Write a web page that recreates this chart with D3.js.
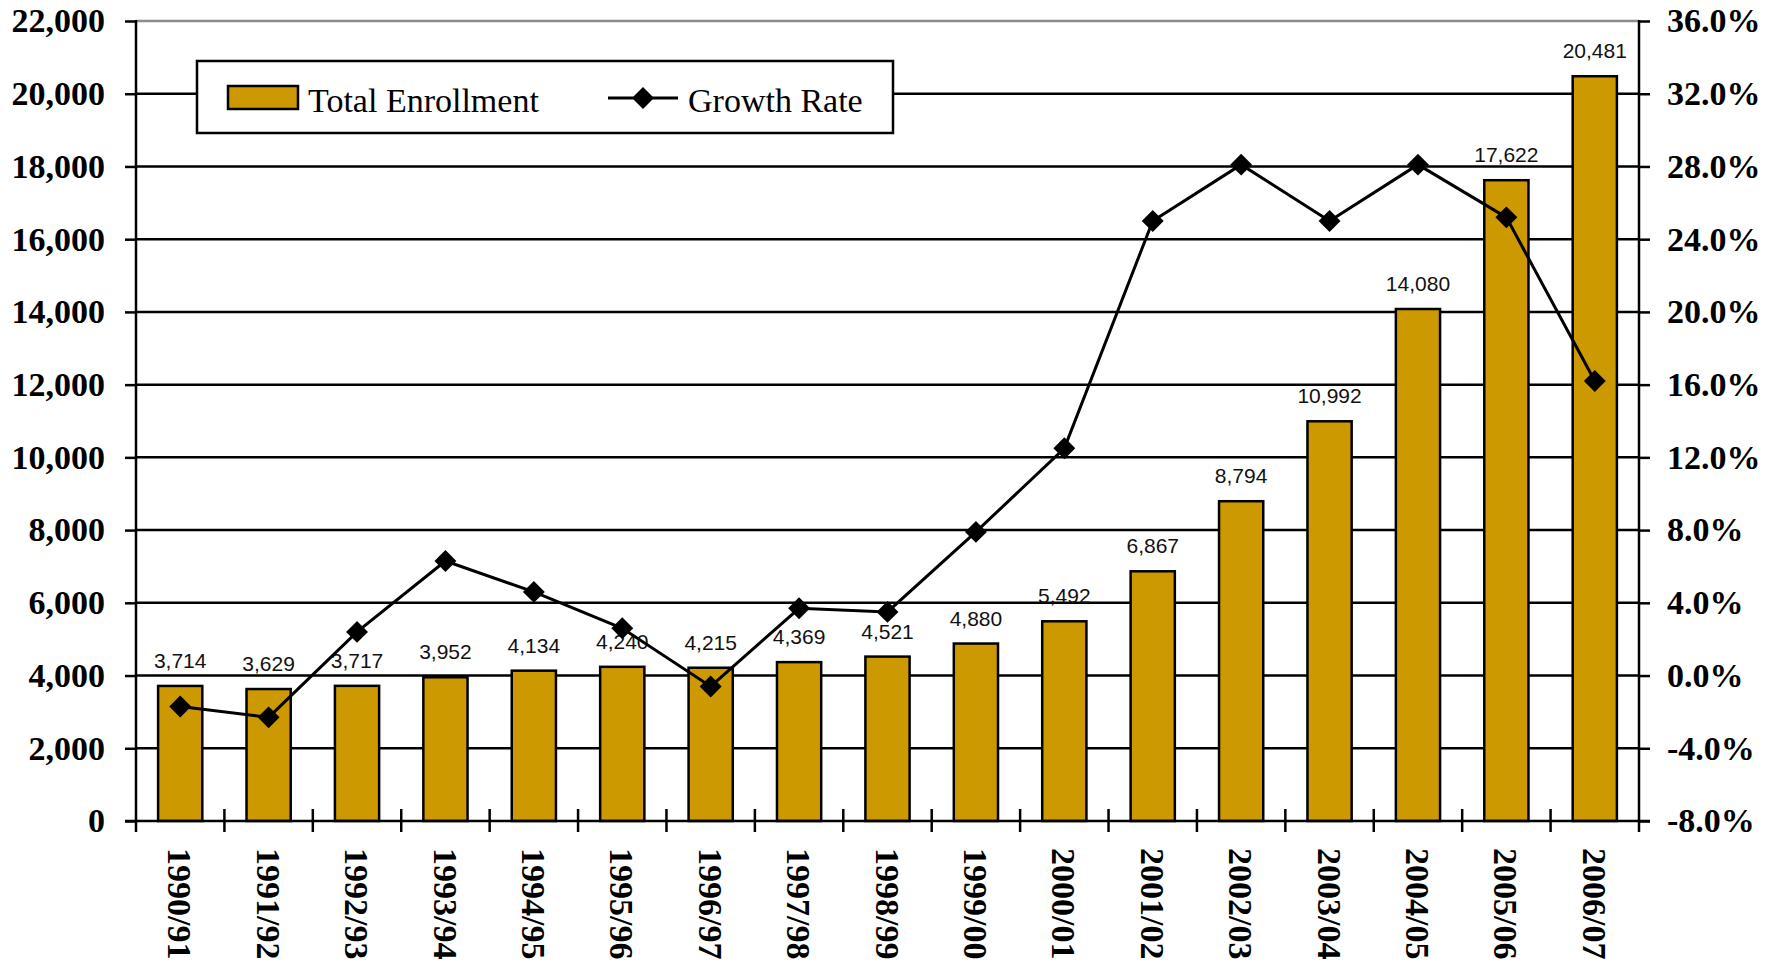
<!DOCTYPE html>
<html>
<head>
	<meta charset="utf-8"/>
	<script src="https://d3js.org/d3.v7.min.js"></script>
	<style>
		body{ margin:0; background:#fff; }
		svg{ display:block; }
	</style>
</head>
<body>
<script>
	// data
	var years = ["1990/91","1991/92","1992/93","1993/94","1994/95","1995/96","1996/97","1997/98","1998/99",
		"1999/00","2000/01","2001/02","2002/03","2003/04","2004/05","2005/06","2006/07"];
	var enrollment = [3714,3629,3717,3952,4134,4240,4215,4369,4521,4880,5492,6867,8794,10992,14080,17622,20481];
	var growth = [-1.7,-2.3,2.4,6.3,4.6,2.6,-0.6,3.7,3.5,7.9,12.5,25.0,28.1,25.0,28.1,25.2,16.2];
	var leftTicks = [0,2000,4000,6000,8000,10000,12000,14000,16000,18000,20000,22000];
	var rightTicks = [-8,-4,0,4,8,12,16,20,24,28,32,36];

	var W = 1781, H = 963;
	var pL = 136, pR = 1639, pT = 21, pB = 821;
	var gold = "#CC9900";
	var serif = "'Liberation Serif','Times New Roman',serif";
	var sans = "'Liberation Sans',Arial,sans-serif";

	var svg = d3.select("body").append("svg").attr("width",W).attr("height",H);

	var x = d3.scaleBand().domain(years).range([pL,pR]).paddingInner(0.5).paddingOuter(0.25);
	var yL = d3.scaleLinear().domain([0,22000]).range([pB,pT]);
	var yR = d3.scaleLinear().domain([-8,36]).range([pB,pT]);

	// gridlines
	svg.append("g").selectAll("line").data(leftTicks.filter(function(d){return d>0 && d<22000;}))
		.enter().append("line")
		.attr("x1",pL).attr("x2",pR)
		.attr("y1",function(d){return yL(d);}).attr("y2",function(d){return yL(d);})
		.attr("stroke","#000").attr("stroke-width",2.5);
	// top border (grey)
	svg.append("line").attr("x1",pL).attr("x2",pR).attr("y1",yL(22000)).attr("y2",yL(22000))
		.attr("stroke","#8c8c8c").attr("stroke-width",2.5);

	// legend box (sits over gridlines)
	var lg = svg.append("g");
	lg.append("rect").attr("x",197).attr("y",61).attr("width",696).attr("height",72)
		.attr("fill","#fff").attr("stroke","#000").attr("stroke-width",2.5);
	lg.append("rect").attr("x",228).attr("y",86).attr("width",70).attr("height",23)
		.attr("fill",gold).attr("stroke","#000").attr("stroke-width",2.5);
	lg.append("text").attr("x",308).attr("y",112).text("Total Enrollment")
		.attr("font-family",serif).attr("font-size",34);
	lg.append("line").attr("x1",608).attr("x2",678).attr("y1",98).attr("y2",98)
		.attr("stroke","#000").attr("stroke-width",3);
	lg.append("path").attr("d",d3.symbol().type(d3.symbolSquare).size(240)())
		.attr("transform","translate(643,98) rotate(45)").attr("fill","#000");
	lg.append("text").attr("x",688).attr("y",112).text("Growth Rate")
		.attr("font-family",serif).attr("font-size",34);

	// bars
	svg.append("g").selectAll("rect").data(enrollment).enter().append("rect")
		.attr("x",function(d,i){return x(years[i]);})
		.attr("width",x.bandwidth())
		.attr("y",function(d){return yL(d);})
		.attr("height",function(d){return yL(0)-yL(d);})
		.attr("fill",gold).attr("stroke","#000").attr("stroke-width",2.5);

	// value labels
	svg.append("g").selectAll("text").data(enrollment).enter().append("text")
		.attr("x",function(d,i){return x(years[i])+x.bandwidth()/2;})
		.attr("y",function(d){return yL(d)-18;})
		.attr("text-anchor","middle")
		.attr("font-family",sans).attr("font-size",21).attr("fill","#111")
		.text(function(d){return d3.format(",")(d);});

	// growth line
	var line = d3.line()
		.x(function(d,i){return x(years[i])+x.bandwidth()/2;})
		.y(function(d){return yR(d);});
	svg.append("path").datum(growth).attr("d",line)
		.attr("fill","none").attr("stroke","#000").attr("stroke-width",3);
	svg.append("g").selectAll("path").data(growth).enter().append("path")
		.attr("d",d3.symbol().type(d3.symbolSquare).size(240)())
		.attr("transform",function(d,i){return "translate("+(x(years[i])+x.bandwidth()/2)+","+yR(d)+") rotate(45)";})
		.attr("fill","#000");

	// left axis
	var gl = svg.append("g").attr("transform","translate("+pL+",0)")
		.call(d3.axisLeft(yL).tickValues(leftTicks).tickFormat(d3.format(",")).tickSize(11).tickSizeOuter(0).tickPadding(20));
	// right axis
	var gr = svg.append("g").attr("transform","translate("+pR+",0)")
		.call(d3.axisRight(yR).tickValues(rightTicks).tickFormat(function(d){return d.toFixed(1)+"%";}).tickSize(11).tickSizeOuter(0).tickPadding(17));
	[gl,gr].forEach(function(g){
		g.select(".domain").remove();
		g.selectAll(".tick line").attr("stroke","#000").attr("stroke-width",2.5);
		g.selectAll("text").attr("font-family",serif).attr("font-size",34).attr("font-weight","bold").attr("fill","#000");
	});
	svg.append("line").attr("x1",pL).attr("x2",pL).attr("y1",pT-1).attr("y2",pB+11)
		.attr("stroke","#000").attr("stroke-width",2.5);
	svg.append("line").attr("x1",pR).attr("x2",pR).attr("y1",pT-1).attr("y2",pB+11)
		.attr("stroke","#000").attr("stroke-width",2.5);

	// bottom axis
	svg.append("line").attr("x1",pL-11).attr("x2",pR+11).attr("y1",pB).attr("y2",pB)
		.attr("stroke","#000").attr("stroke-width",2.5);
	var gb = svg.append("g").attr("transform","translate(0,"+pB+")")
		.call(d3.axisBottom(x).tickSize(0).tickSizeOuter(0));
	gb.select(".domain").remove();
	gb.selectAll("text")
		.attr("x",0).attr("y",0).attr("dy","0.35em")
		.attr("transform","translate(0,27) rotate(90)")
		.style("text-anchor","start")
		.attr("font-family",serif).attr("font-size",34).attr("font-weight","bold").attr("fill","#000");
	var step = x.step();
	svg.append("g").selectAll("line").data(years.slice(1)).enter().append("line")
		.attr("x1",function(d){return x(d)-step*0.25;}).attr("x2",function(d){return x(d)-step*0.25;})
		.attr("y1",pB-12).attr("y2",pB+11)
		.attr("stroke","#000").attr("stroke-width",2.5);
</script>
</body>
</html>
